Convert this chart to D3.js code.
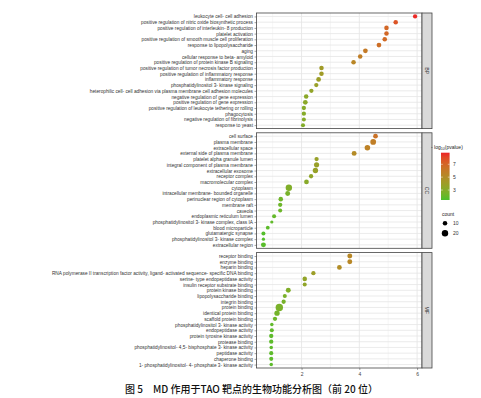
<!DOCTYPE html>
<html>
<head>
<meta charset="utf-8">
<script src="https://cdn.jsdelivr.net/npm/d3@7"></script>
<style>
  body { margin: 0; background: #fff; }
  svg { display: block; font-family: "Liberation Sans", Arial, sans-serif; }
</style>
</head>
<body>
<svg id="chart" width="481" height="398"></svg>
<script>
// ---- data ----
const bpTerms = [
  "leukocyte cell- cell adhesion",
  "positive regulation of nitric oxide biosynthetic process",
  "positive regulation of interleukin- 8 production",
  "platelet activation",
  "positive regulation of smooth muscle cell proliferation",
  "response to lipopolysaccharide",
  "aging",
  "cellular response to beta- amyloid",
  "positive regulation of protein kinase B signaling",
  "positive regulation of tumor necrosis factor production",
  "positive regulation of inflammatory response",
  "inflammatory response",
  "phosphatidylinositol 3- kinase signaling",
  "heterophilic cell- cell adhesion via plasma membrane cell adhesion molecules",
  "negative regulation of gene expression",
  "positive regulation of gene expression",
  "positive regulation of leukocyte tethering or rolling",
  "phagocytosis",
  "negative regulation of fibrinolysis",
  "response to yeast"
];
const bpEnrich = [5.93, 5.26, 4.94, 4.94, 4.88, 4.68, 4.21, 4.03, 3.80, 2.69, 2.69, 2.59, 2.51, 2.34, 2.16, 2.13, 2.08, 2.08, 2.08, 2.05];
const bpLogP   = [8.7, 7.6, 6.9, 6.9, 6.8, 6.6, 6.0, 5.8, 5.4, 4.1, 4.1, 3.9, 3.8, 3.5, 3.2, 3.2, 3.0, 3.0, 3.0, 2.9];
const bpCount  = [9, 10, 10, 10, 10, 11, 11, 10, 10, 10, 10, 11, 9, 9, 10, 11, 9, 9, 8, 8];

const ccTerms = [
  "cell surface",
  "plasma membrane",
  "extracellular space",
  "external side of plasma membrane",
  "platelet alpha granule lumen",
  "integral component of plasma membrane",
  "extracellular exosome",
  "receptor complex",
  "macromolecular complex",
  "cytoplasm",
  "intracellular membrane- bounded organelle",
  "perinuclear region of cytoplasm",
  "membrane raft",
  "caveola",
  "endoplasmic reticulum lumen",
  "phosphatidylinositol 3- kinase complex, class IA",
  "blood microparticle",
  "glutamatergic synapse",
  "phosphatidylinositol 3- kinase complex",
  "extracellular region"
];
const ccEnrich = [4.56, 4.48, 4.28, 3.82, 2.52, 2.52, 2.48, 2.33, 2.17, 1.56, 1.52, 1.28, 1.26, 1.26, 1.05, 0.97, 0.83, 0.68, 0.68, 0.68];
const ccLogP   = [6.4, 5.8, 5.6, 5.1, 3.7, 3.8, 3.7, 3.4, 3.1, 2.8, 2.5, 2.3, 2.2, 2.2, 2.0, 1.9, 1.8, 1.6, 1.6, 1.7];
const ccCount  = [11, 16, 15, 12, 9, 13, 14, 9, 11, 20, 12, 10, 9, 8, 8, 5, 7, 8, 5, 12];

const mfTerms = [
  "receptor binding",
  "enzyme binding",
  "heparin binding",
  "RNA polymerase II transcription factor activity, ligand- activated sequence- specific DNA binding",
  "serine- type endopeptidase activity",
  "insulin receptor substrate binding",
  "protein kinase binding",
  "lipopolysaccharide binding",
  "integrin binding",
  "protein binding",
  "identical protein binding",
  "scaffold protein binding",
  "phosphatidylinositol 3- kinase activity",
  "endopeptidase activity",
  "protein tyrosine kinase activity",
  "protease binding",
  "phosphatidylinositol- 4,5- bisphosphate 3- kinase activity",
  "peptidase activity",
  "chaperone binding",
  "1- phosphatidylinositol- 4- phosphate 3- kinase activity"
];
const mfEnrich = [3.67, 3.67, 3.31, 2.41, 2.11, 2.11, 1.54, 1.42, 1.38, 1.23, 1.15, 1.08, 0.97, 0.97, 0.95, 0.95, 0.95, 0.95, 0.95, 0.95];
const mfLogP   = [5.3, 5.3, 5.0, 3.9, 3.5, 3.4, 2.8, 2.6, 2.5, 2.6, 2.4, 2.2, 1.9, 1.9, 1.8, 1.8, 1.8, 1.8, 1.8, 1.8];
const mfCount  = [12, 12, 11, 9, 10, 8, 12, 8, 9, 27, 14, 9, 6, 8, 9, 9, 6, 8, 8, 6];

const xTicks = [2, 4, 6];
const xMinor = [1, 3, 5];
const colorTicks = [3, 5, 7];
const sizeBreaks = [10, 20];
const caption = "图 5　MD 作用于TAO 靶点的生物功能分析图（前 20 位）";

// ---- layout ----
const panelLeft = 256.5, panelRight = 422, stripW = 10;
const panelDefs = [
  {name: "BP", terms: bpTerms, enrich: bpEnrich, logp: bpLogP, count: bpCount, top: 13, bottom: 128.6},
  {name: "CC", terms: ccTerms, enrich: ccEnrich, logp: ccLogP, count: ccCount, top: 132.8, bottom: 248.3},
  {name: "MF", terms: mfTerms, enrich: mfEnrich, logp: mfLogP, count: mfCount, top: 252.6, bottom: 368}
];

const svg = d3.select("#chart");

const x = d3.scaleLinear().domain([0.44, 6.17]).range([panelLeft, panelRight]);
const color = d3.scaleLinear()
  .domain([1.45, 8.8])
  .range(["#4cc02c", "#ec2326"])
  .interpolate(d3.interpolateLab);
const size = d3.scaleSqrt().domain([0, 20]).range([0, 3.2]);

panelDefs.forEach((p, idx) => {
  const y = d3.scalePoint()
    .domain(p.terms)
    .range([p.top, p.bottom])
    .padding(0.6);

  const g = svg.append("g");

  g.append("rect")
    .attr("x", panelLeft).attr("y", p.top)
    .attr("width", panelRight - panelLeft).attr("height", p.bottom - p.top)
    .attr("fill", "#fff");

  // grid
  g.selectAll(".vminor").data(xMinor).enter().append("line")
    .attr("x1", d => x(d)).attr("x2", d => x(d))
    .attr("y1", p.top).attr("y2", p.bottom)
    .attr("stroke", "#f0f0f0").attr("stroke-width", 0.6);
  g.selectAll(".vmajor").data(xTicks).enter().append("line")
    .attr("x1", d => x(d)).attr("x2", d => x(d))
    .attr("y1", p.top).attr("y2", p.bottom)
    .attr("stroke", "#e6e6e6").attr("stroke-width", 0.9);
  g.selectAll(".hgrid").data(p.terms).enter().append("line")
    .attr("x1", panelLeft).attr("x2", panelRight)
    .attr("y1", d => y(d)).attr("y2", d => y(d))
    .attr("stroke", "#e6e6e6").attr("stroke-width", 0.8);

  // points
  const rows = p.terms.map((t, i) => ({term: t, enrich: p.enrich[i], logp: p.logp[i], count: p.count[i]}));
  g.selectAll("circle").data(rows).enter().append("circle")
    .attr("cx", d => x(d.enrich))
    .attr("cy", d => y(d.term))
    .attr("r", d => size(d.count))
    .attr("fill", d => color(d.logp));

  // border
  g.append("rect")
    .attr("x", panelLeft).attr("y", p.top)
    .attr("width", panelRight - panelLeft).attr("height", p.bottom - p.top)
    .attr("fill", "none").attr("stroke", "#444").attr("stroke-width", 0.8);

  // strip
  g.append("rect")
    .attr("x", panelRight).attr("y", p.top)
    .attr("width", stripW).attr("height", p.bottom - p.top)
    .attr("fill", "#d9d9d9").attr("stroke", "#444").attr("stroke-width", 0.8);
  g.append("text")
    .attr("transform", `translate(${panelRight + stripW / 2},${(p.top + p.bottom) / 2}) rotate(90)`)
    .attr("text-anchor", "middle").attr("dy", "0.35em")
    .attr("font-size", 5.2).attr("fill", "#333")
    .text(p.name);

  // y axis
  const ya = g.append("g")
    .attr("transform", `translate(${panelLeft},0)`)
    .call(d3.axisLeft(y).tickSize(2).tickPadding(1.5));
  ya.select(".domain").remove();
  ya.selectAll("line").attr("stroke", "#444").attr("stroke-width", 0.5);
  ya.selectAll("text").attr("font-size", 4.75).attr("fill", "#333")
    .attr("font-family", "'Liberation Sans', Arial, sans-serif");

  if (idx === panelDefs.length - 1) {
    const xa = g.append("g")
      .attr("transform", `translate(0,${p.bottom})`)
      .call(d3.axisBottom(x).tickValues(xTicks).tickFormat(d3.format("d")).tickSize(2).tickPadding(2));
    xa.select(".domain").remove();
    xa.selectAll("line").attr("stroke", "#444").attr("stroke-width", 0.5);
    xa.selectAll("text").attr("font-size", 5).attr("fill", "#444")
      .attr("font-family", "'Liberation Sans', Arial, sans-serif");
  }
});

// ---- colour legend ----
const leg = svg.append("g");
const lt = leg.append("text").attr("x", 431).attr("y", 148.5)
  .attr("font-size", 5).attr("fill", "#222");
lt.append("tspan").text("-\u00a0log");
lt.append("tspan").attr("font-size", 3.6).attr("dy", 1.2).text("10");
lt.append("tspan").attr("dy", -1.2).text("(pvalue)");

const barTop = 152.7, barBottom = 200, barX = 441, barW = 8.6;
const cbar = d3.scaleLinear().domain(color.domain()).range([barBottom, barTop]);
const grad = svg.append("defs").append("linearGradient")
  .attr("id", "cgrad").attr("x1", 0).attr("x2", 0).attr("y1", 1).attr("y2", 0);
d3.range(0, 1.0001, 0.1).forEach(t => {
  const v = color.domain()[0] + t * (color.domain()[1] - color.domain()[0]);
  grad.append("stop").attr("offset", t).attr("stop-color", color(v));
});
leg.append("rect").attr("x", barX).attr("y", barTop)
  .attr("width", barW).attr("height", barBottom - barTop)
  .attr("fill", "url(#cgrad)");
leg.selectAll(".ctick").data(colorTicks).enter().append("g").each(function(d) {
  const gg = d3.select(this);
  gg.append("line").attr("x1", barX).attr("x2", barX + 1.8)
    .attr("y1", cbar(d)).attr("y2", cbar(d)).attr("stroke", "#fff").attr("stroke-width", 0.5);
  gg.append("line").attr("x1", barX + barW - 1.8).attr("x2", barX + barW)
    .attr("y1", cbar(d)).attr("y2", cbar(d)).attr("stroke", "#fff").attr("stroke-width", 0.5);
  gg.append("text").attr("x", 453).attr("y", cbar(d)).attr("dy", "0.35em")
    .attr("font-size", 5).attr("fill", "#333").text(d);
});

// ---- size legend ----
leg.append("text").attr("x", 442).attr("y", 216)
  .attr("font-size", 5).attr("fill", "#222").text("count");
const sy = d3.scalePoint().domain(sizeBreaks).range([223.3, 233.3]);
leg.selectAll(".sdot").data(sizeBreaks).enter().append("circle")
  .attr("cx", 445).attr("cy", d => sy(d)).attr("r", d => size(d)).attr("fill", "#000");
leg.selectAll(".slab").data(sizeBreaks).enter().append("text")
  .attr("x", 453).attr("y", d => sy(d)).attr("dy", "0.35em")
  .attr("font-size", 5).attr("fill", "#333").text(d => d);

// ---- caption ----
svg.append("text")
  .attr("x", 125).attr("y", 392.5)
  .attr("font-family", "'Noto Sans CJK SC', sans-serif")
  .attr("font-size", 10).attr("font-weight", 500).attr("fill", "#111")
  .attr("textLength", 253).attr("lengthAdjust", "spacing")
  .text(caption);
</script>
</body>
</html>
